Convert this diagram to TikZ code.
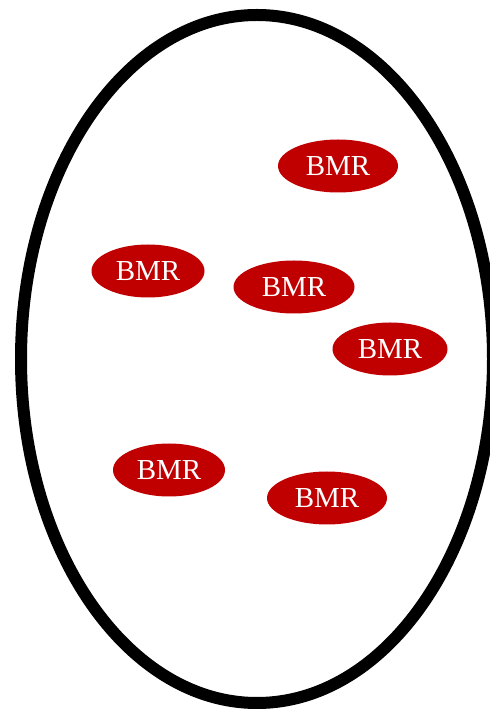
\documentclass[tikz,border=0pt]{standalone}
\usepackage{fontspec}
\setmainfont{Liberation Serif}
\usetikzlibrary{shapes.geometric}
\definecolor{bmrred}{HTML}{C00000}
\begin{document}
\begin{tikzpicture}[x=1pt,y=1pt,
  bmr/.style={ellipse, fill=bmrred, text=white, font=\fontsize{29}{31}\selectfont, minimum width=#1, minimum height=53pt, inner sep=0pt},
  bmr/.default=118pt]
\useasboundingbox (0,0) rectangle (490,710);
\begin{scope}
\clip (0,0) rectangle (490,710);
\draw[line width=12pt] (257,351) ellipse [x radius=236, y radius=344];
\end{scope}
\node[bmr=120pt] (b1) at (338,544) {BMR};
\node[bmr=113pt] (b2) at (148,439) {BMR};
\node[bmr=121pt] (b3) at (294,423) {BMR};
\node[bmr=115pt] (b4) at (390,361) {BMR};
\node[bmr=112pt] (b5) at (169,240) {BMR};
\node[bmr=120pt] (b6) at (327,212) {BMR};
\end{tikzpicture}
\end{document}
